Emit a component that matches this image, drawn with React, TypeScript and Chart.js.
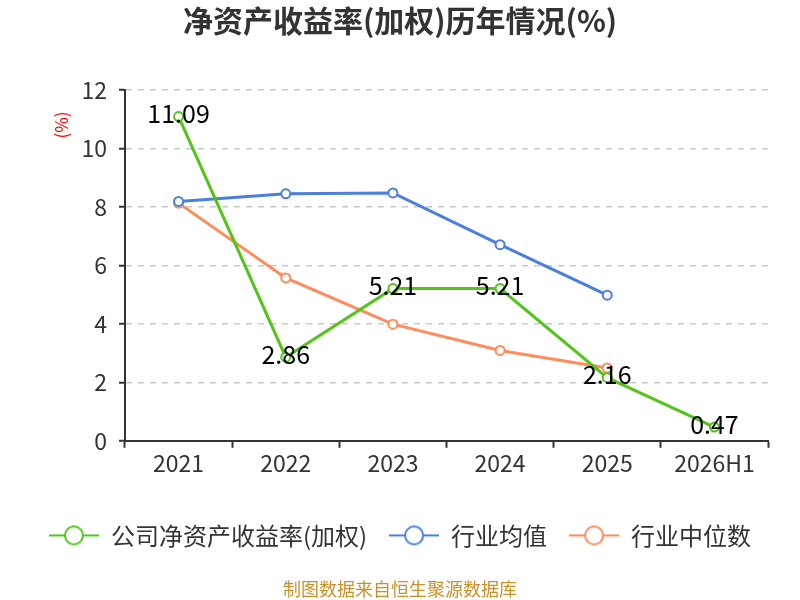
import React, { useEffect, useRef } from 'react';
import { Chart, registerables } from 'chart.js';

Chart.register(...registerables);

const categories = ['2021', '2022', '2023', '2024', '2025', '2026H1'];
const companyRoe = [11.09, 2.86, 5.21, 5.21, 2.16, 0.47];
const industryAvg = [8.19, 8.45, 8.48, 6.71, 4.98, null];
const industryMedian = [8.13, 5.57, 3.99, 3.09, 2.49, null];
const yTicks = [0, 2, 4, 6, 8, 10, 12];

const FONT = '"Noto Sans CJK SC", "Noto Sans", sans-serif';

// legend marker: short line with a hollow circle in the middle
const makeMarker = (color: string) => {
    const c = document.createElement('canvas');
    c.width = 50;
    c.height = 22;
    const g = c.getContext('2d');
    if (g) {
        g.strokeStyle = color;
        g.lineWidth = 2;
        g.beginPath();
        g.moveTo(0, 11);
        g.lineTo(50, 11);
        g.stroke();
        g.fillStyle = '#fff';
        g.beginPath();
        g.arc(25, 11, 9, 0, Math.PI * 2);
        g.fill();
        g.stroke();
    }
    return c;
};

const valueLabels = {
    id: 'valueLabels',
    afterDatasetsDraw(chart: any) {
        const ctx = chart.ctx;
        const meta = chart.getDatasetMeta(0);
        ctx.save();
        ctx.font = `25px ${FONT}`;
        ctx.fillStyle = '#000';
        ctx.textAlign = 'center';
        ctx.textBaseline = 'middle';
        meta.data.forEach((pt: any, i: number) => {
            const v = companyRoe[i];
            if (v == null) return;
            ctx.fillText(v.toFixed(2), pt.x, pt.y - 3);
        });
        ctx.restore();
    },
};

// unit label "(%)" sitting left of the y axis, near its top
const unitLabel = {
    id: 'unitLabel',
    afterDraw(chart: any) {
        const ctx = chart.ctx;
        const top = chart.chartArea.top;
        ctx.save();
        ctx.translate(62, top + 35);
        ctx.rotate(-Math.PI / 2);
        ctx.font = `17px ${FONT}`;
        ctx.fillStyle = '#f00';
        ctx.textAlign = 'center';
        ctx.textBaseline = 'middle';
        ctx.fillText('(%)', 0, 0);
        ctx.restore();
    },
};

const App = () => {
    const chartRef = useRef<HTMLCanvasElement | null>(null);

    useEffect(() => {
        if (!chartRef.current) return;
        const ctx = chartRef.current.getContext('2d');
        if (!ctx) return;

        const mk = (label: string, data: (number | null)[], color: string) => ({
            label,
            data,
            borderColor: color,
            backgroundColor: '#fff',
            pointBackgroundColor: '#fff',
            pointBorderColor: color,
            borderWidth: 3,
            pointRadius: 4.5,
            pointBorderWidth: 2,
            tension: 0,
            spanGaps: false,
        });

        const myChart = new Chart(ctx, {
            type: 'line',
            data: {
                labels: categories,
                datasets: [
                    mk('公司净资产收益率(加权)', companyRoe, '#52c41a'),
                    mk('行业均值', industryAvg, '#4a7fe0'),
                    mk('行业中位数', industryMedian, '#ff8c5a'),
                ],
            },
            options: {
                responsive: false,
                animation: false,
                layout: { padding: 0 },
                plugins: {
                    title: {
                        display: true,
                        text: '净资产收益率(加权)历年情况(%)',
                        color: '#333',
                        font: { family: FONT, size: 30, weight: 'bold' },
                        padding: { top: 3, bottom: 51 },
                    },
                    legend: {
                        position: 'bottom',
                        labels: {
                            color: '#333',
                            font: { family: FONT, size: 24 },
                            usePointStyle: true,
                            pointStyleWidth: 50,
                            padding: 22,
                            generateLabels: (chart: any) =>
                                chart.data.datasets.map((ds: any, i: number) => ({
                                    text: ds.label,
                                    pointStyle: makeMarker(ds.borderColor),
                                    fontColor: '#333',
                                    hidden: false,
                                    datasetIndex: i,
                                    lineWidth: 0,
                                })),
                        },
                    },
                    subtitle: {
                        display: true,
                        position: 'bottom',
                        text: '制图数据来自恒生聚源数据库',
                        color: '#c8922a',
                        font: { family: FONT, size: 18 },
                        padding: { top: 21, bottom: 0 },
                    },
                    tooltip: { enabled: false },
                },
                scales: {
                    x: {
                        offset: true,
                        afterFit: (axis: any) => {
                            axis.height += 22;
                            axis.paddingRight = 32;
                        },
                        grid: {
                            offset: true,
                            drawOnChartArea: false,
                            drawTicks: true,
                            tickLength: 7,
                            tickColor: '#333',
                            tickWidth: 2,
                        },
                        border: { color: '#333', width: 2 },
                        ticks: {
                            color: '#333',
                            font: { family: FONT, size: 23 },
                            padding: 2,
                        },
                    },
                    y: {
                        min: 0,
                        max: 12,
                        afterBuildTicks: (axis: any) => {
                            axis.ticks = yTicks.map((v) => ({ value: v }));
                        },
                        afterFit: (axis: any) => {
                            axis.width = 125;
                        },
                        grid: {
                            color: '#c8c8c8',
                            lineWidth: 1.5,
                            tickLength: 6,
                            tickColor: '#333',
                            tickWidth: 2,
                            tickBorderDash: [],
                        },
                        border: { color: '#333', width: 2, dash: [6, 6] },
                        ticks: {
                            color: '#333',
                            font: { family: FONT, size: 23 },
                            padding: 12,
                        },
                    },
                },
            },
            plugins: [valueLabels, unitLabel],
        });

        return () => {
            myChart.destroy();
        };
    }, []);

    return (
        <div style={{ position: 'fixed', left: 0, top: 0, width: 800, height: 600, background: '#fff' }}>
            <canvas ref={chartRef} width={800} height={600} />
        </div>
    );
};

export default App;
